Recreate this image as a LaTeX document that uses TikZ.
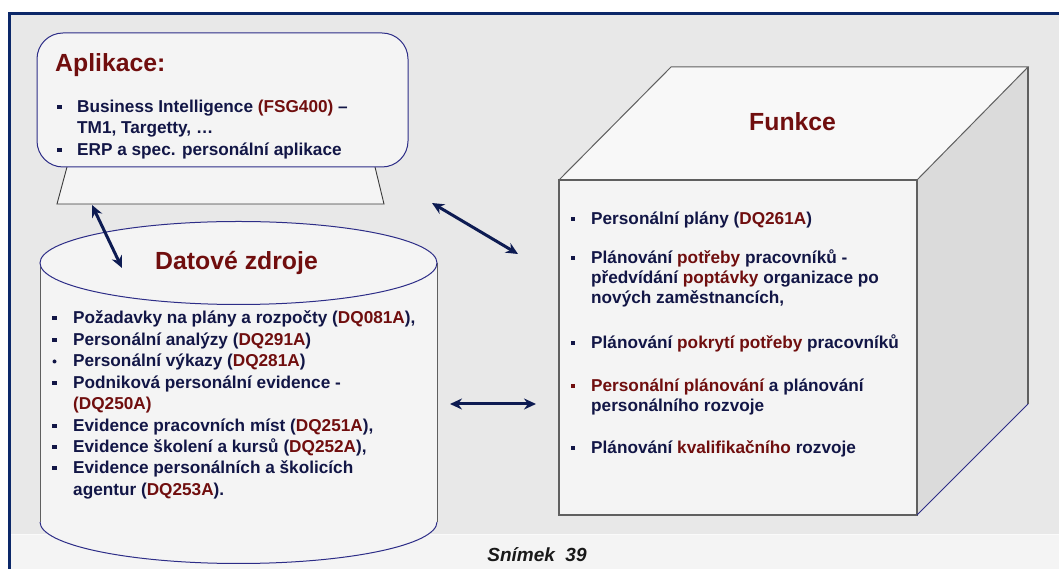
\documentclass[tikz,border=0pt]{standalone}
\usepackage{fontspec}
\setmainfont{Liberation Sans}
\usetikzlibrary{arrows.meta}

\definecolor{framenavy}{RGB}{12,40,105}
\definecolor{textnavy}{RGB}{18,22,70}
\definecolor{darkred}{RGB}{112,14,14}
\definecolor{panelgray}{RGB}{232,232,232}
\definecolor{paper}{RGB}{244,244,244}
\definecolor{sideface}{RGB}{219,219,219}
\definecolor{edgeblue}{RGB}{45,45,135}
\definecolor{edgegray}{RGB}{95,95,95}
\definecolor{arrownavy}{RGB}{13,27,82}

\newcommand\hl[1]{\textcolor{darkred}{#1}}
% square bullet whose centre sits a little above the baseline
\newcommand\sqbullet[3][textnavy]{\fill[#1] (#2,#3) ++(-2.3,3.7) rectangle ++(4.6,4.6);}

\tikzset{
  itemtext/.style={anchor=base west, inner sep=0pt, text=textnavy,
    font=\fontsize{17.2}{20}\selectfont\bfseries},
  titletext/.style={anchor=base west, inner sep=0pt, text=darkred,
    font=\fontsize{24.8}{28}\selectfont\bfseries},
  link/.style={arrownavy, line width=3pt,
    {Stealth[length=12pt,width=11pt]}-{Stealth[length=12pt,width=11pt]}},
}

\begin{document}
\begin{tikzpicture}[x=1pt,y=1pt]
\useasboundingbox (0,0) rectangle (1059,569);
\fill[white] (0,0) rectangle (1059,569);

% slide panel and its footer strip
\fill[panelgray] (9.5,0) rectangle (1059,555);
\fill[paper] (11,0) rectangle (1059,35);
\draw[white!80!panelgray, line width=0.8pt] (11,35) -- (1059,35);
\draw[framenavy, line width=3pt] (9.5,0) -- (9.5,555) -- (1062,555);

% application monitor: stand and screen
\draw[paper, fill=paper] (67,402) -- (375,402) -- (384,365) -- (57,365) -- cycle;
\draw[edgegray!60!black, line width=0.9pt] (67,402) -- (57,365) -- (384,365) -- (375,402);
\draw[edgeblue, line width=1pt, fill=paper, rounded corners=26pt]
  (37,402) rectangle (408,536);

% data store cylinder
\fill[paper] (40,306) -- (40,47) arc[start angle=180, end angle=360,
  x radius=198.5, y radius=41.5] -- (437,306) -- cycle;
\draw[edgegray, line width=0.9pt] (40,306) -- (40,47);
\draw[edgegray, line width=0.9pt] (437,306) -- (437,47);
\draw[edgeblue, line width=1pt] (40,47) arc[start angle=180, end angle=360,
  x radius=198.5, y radius=41.5];
\draw[edgeblue, line width=1pt, fill=paper] (238.5,306) ellipse [x radius=198.5, y radius=41.5];

% functions cube
\fill[sideface] (917,389) -- (1028,502) -- (1028,165) -- (917,54) -- cycle;
\fill[paper!60!white] (559,389) -- (671,502) -- (1028,502) -- (917,389) -- cycle;
\fill[paper] (559,54) rectangle (917,389);
\draw[edgegray, line width=1.2pt] (559,54) rectangle (917,389);
\draw[edgegray, line width=1pt] (559,389) -- (671,502) -- (1028,502) -- (917,389);
\draw[edgegray, line width=1.2pt] (1028,502) -- (1028,165);
\draw[edgeblue, line width=1pt] (1028,165) -- (917,54);

% titles
\node[titletext] (tapl) at (55,497) {Aplikace:};
\node[titletext] (tdat) at (155,299) {Datové zdroje};
\node[titletext] (tfun) at (749,438) {Funkce};

% application list
\sqbullet{59.5}{456}
\node[itemtext] (a1) at (77,456) {Business Intelligence \hl{(FSG400)} –};
\node[itemtext] (a2) at (77,435) {TM1, Targetty, …};
\sqbullet{59.5}{413}
\node[itemtext] (a3) at (77,413) {ERP a spec. personální aplikace};

% data source list
\sqbullet{54.5}{245}
\node[itemtext] (d1) at (73,245) {Požadavky na plány a rozpočty (\hl{DQ081A}),};
\sqbullet{54.5}{223}
\node[itemtext] (d2) at (73,223) {Personální analýzy (\hl{DQ291A})};
\fill[textnavy] (54.5,207.5) circle (2pt);
\node[itemtext] (d3) at (73,202) {Personální výkazy (\hl{DQ281A})};
\sqbullet{54.5}{180}
\node[itemtext] (d4) at (73,180) {Podniková personální evidence -};
\node[itemtext] (d5) at (73,159) {\hl{(DQ250A)}};
\sqbullet{54.5}{137}
\node[itemtext] (d6) at (73,137) {Evidence pracovních míst (\hl{DQ251A}),};
\sqbullet{54.5}{116}
\node[itemtext] (d7) at (73,116) {Evidence školení a kursů (\hl{DQ252A}),};
\sqbullet{54.5}{95}
\node[itemtext] (d8) at (73,95) {Evidence personálních a školicích};
\node[itemtext] (d9) at (73,73) {agentur (\hl{DQ253A}).};

% function list
\sqbullet{573}{344}
\node[itemtext] (f1) at (591,344) {Personální plány (\hl{DQ261A})};
\sqbullet{573}{305}
\node[itemtext] (f2) at (591,305) {Plánování \hl{potřeby} pracovníků -};
\node[itemtext] (f3) at (591,285) {předvídání \hl{poptávky} organizace po};
\node[itemtext] (f4) at (591,265) {nových zaměstnancích,};
\sqbullet{573}{220}
\node[itemtext] (f5) at (591,220) {Plánování \hl{pokrytí potřeby} pracovníků};
\sqbullet[darkred]{573}{177}
\node[itemtext] (f6) at (591,177) {\hl{Personální plánování} a plánování};
\node[itemtext] (f7) at (591,157) {personálního rozvoje};
\sqbullet{573}{115}
\node[itemtext] (f8) at (591,115) {Plánování \hl{kvalifikačního} rozvoje};

% two-way links between the blocks
\coordinate (monitorfoot) at (92,364);
\coordinate (cyltop) at (122,301);
\coordinate (monitorside) at (432,366);
\coordinate (cubetop) at (518,315);
\coordinate (cylside) at (450,165);
\coordinate (cubeside) at (536,165);
\draw[link] (monitorfoot) -- (cyltop);
\draw[link] (monitorside) -- (cubetop);
\draw[link] (cylside) -- (cubeside);

% slide number
\node[anchor=base, inner sep=0pt, text=black!90,
  font=\fontsize{19}{22}\selectfont\bfseries\itshape] (slideno) at (537,7) {Snímek~~39};
\end{tikzpicture}
\end{document}
